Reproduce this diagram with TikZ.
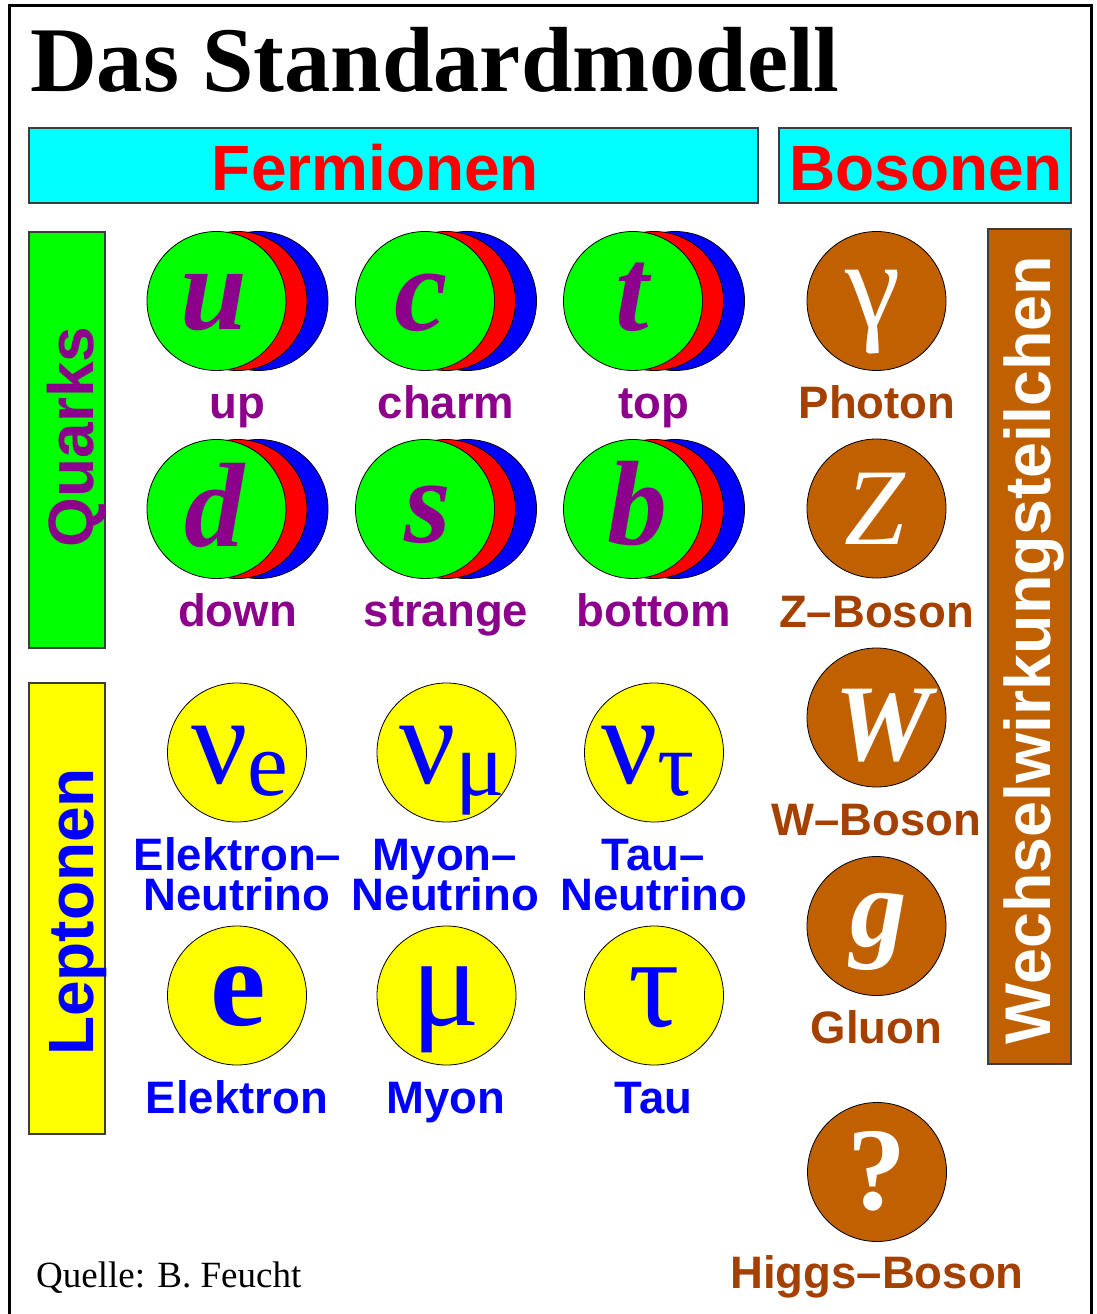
\documentclass[tikz,border=0pt]{standalone}
\usepackage{fontspec}
\setmainfont{Liberation Serif}
\newfontfamily\hlv{Liberation Sans}
\newfontfamily\tms{Liberation Serif}
\definecolor{qgreen}{RGB}{0,255,0}
\definecolor{qred}{RGB}{255,0,0}
\definecolor{qblue}{RGB}{0,0,255}
\definecolor{lyellow}{RGB}{255,255,0}
\definecolor{hcyan}{RGB}{0,255,255}
\definecolor{qpurple}{RGB}{140,0,140}
\definecolor{bbrown}{RGB}{192,96,0}
\definecolor{blabel}{RGB}{165,65,0}
\definecolor{boxline}{RGB}{60,60,60}
\newcommand\myquark[6]{%
  \node[qcirc,fill=qblue] (#1b) at ({#2+42},#3) {};
  \node[qcirc,fill=qred] (#1r) at ({#2+21},#3) {};
  \node[qcirc,fill=qgreen] (#1g) at (#2,#3) {};
  \node[qletter] (#1l) at (#4) {#5};
  \node[qlabel] (#1t) at ({#2+21},{#3+117}) {#6};
}
\begin{document}
\begin{tikzpicture}[x=1pt,y=-1pt,
  hbox/.style={draw=boxline,line width=1.2pt,inner sep=0pt},
  qcirc/.style={circle,draw=black,line width=0.8pt,minimum size=139pt,inner sep=0pt},
  lcirc/.style={circle,draw=black,line width=0.8pt,minimum size=139pt,inner sep=0pt,fill=lyellow},
  bcirc/.style={circle,draw=black,line width=0.8pt,minimum size=139pt,inner sep=0pt,fill=bbrown},
  qletter/.style={inner sep=0pt,anchor=center,text=qpurple,font=\tms\bfseries\itshape\fontsize{120}{120}\selectfont},
  qlabel/.style={inner sep=0pt,anchor=base,text=qpurple,font=\hlv\bfseries\fontsize{45.5}{40}\selectfont},
  llabel/.style={inner sep=0pt,anchor=base,text=qblue,font=\hlv\bfseries\fontsize{45.5}{40}\selectfont},
  blab/.style={inner sep=0pt,anchor=base,text=blabel,font=\hlv\bfseries\fontsize{45.5}{40}\selectfont},
  lsym/.style={inner sep=0pt,anchor=base,text=qblue,font=\tms\fontsize{128}{128}\selectfont},
  bsym/.style={inner sep=0pt,anchor=center,text=white,font=\tms\fontsize{115}{115}\selectfont},
  bighead/.style={inner sep=0pt,anchor=base,text=qred,font=\hlv\bfseries\fontsize{64}{64}\selectfont},
  vlabel/.style={inner sep=0pt,anchor=base,rotate=90,font=\hlv\bfseries\fontsize{64}{64}\selectfont}]
\useasboundingbox (0,0) rectangle (1097,1314);
\path[clip] (0,0) rectangle (1097,1314);
\fill[white] (0,0) rectangle (1097,1314);
% frame
\draw[line width=3pt] (9,1340) -- (9,6) -- (1091,6) -- (1091,1340);
% title
\node[inner sep=0pt,anchor=base west,font=\tms\bfseries\fontsize{92.5}{93}\selectfont] (title) at (30,92) {Das Standardmodell};
% header boxes
\node[hbox,fill=hcyan,minimum width=729pt,minimum height=75pt] (fermbox) at (393.5,165.5) {};
\node[bighead] (ferm) at (375.5,190) {Fermionen};
\node[hbox,fill=hcyan,minimum width=292pt,minimum height=75pt] (bosbox) at (925,165.5) {};
\node[bighead] (bos) at (926,190) {Bosonen};
% side boxes
\node[hbox,fill=qgreen,minimum width=76pt,minimum height=416pt] (qbox) at (67,440) {};
\node[vlabel,text=qpurple] (qtext) at (93,437) {Quarks};
\node[hbox,fill=lyellow,minimum width=76pt,minimum height=451pt] (lbox) at (67,908.5) {};
\node[vlabel,text=qblue] (ltext) at (93,912) {Leptonen};
\node[hbox,fill=bbrown,minimum width=83pt,minimum height=835pt] (wbox) at (1029.5,646.5) {};
\node[vlabel,text=white,font=\hlv\bfseries\fontsize{64.6}{64}\selectfont] (wtext) at (1050,650) {Wechselwirkungsteilchen};
% quarks
\myquark{u}{216.5}{301}{213.5,302.5}{u}{up}
\myquark{c}{425}{301}{421.5,302.5}{c}{charm}
\myquark{t}{633}{301}{632,297}{t}{top}
\myquark{d}{216.5}{509}{214,505}{d}{down}
\myquark{s}{425}{509}{427.5,515}{s}{strange}
\myquark{b}{633}{509}{637,504}{b}{bottom}
% leptons
\node[lcirc] (nue) at (237,752.5) {};
\node[lcirc] (num) at (446.5,752.5) {};
\node[lcirc] (nut) at (654,752.5) {};
\node[lcirc] (el) at (237,995.5) {};
\node[lcirc] (mu) at (446.5,995.5) {};
\node[lcirc] (tau) at (654,995.5) {};
\node[lsym] (nuesym) at (240,783) {{\fontsize{125}{125}\selectfont ν}\kern-1pt\raisebox{-12pt}{\fontsize{92}{92}\selectfont e}};
\node[lsym] (numsym) at (452,783) {{\fontsize{125}{125}\selectfont ν}\kern-1pt\raisebox{-12pt}{\fontsize{92}{92}\selectfont μ}};
\node[lsym] (nutsym) at (648,783) {{\fontsize{125}{125}\selectfont ν}\kern-1pt\raisebox{-12pt}{\fontsize{92}{92}\selectfont τ}};
\node[lsym,font=\tms\bfseries\fontsize{125}{125}\selectfont] (elsym) at (238.5,1025) {e};
\node[lsym] (musym) at (446,1025) {μ};
\node[lsym] (tausym) at (654,1026) {τ};
\node[llabel] (nuelab1) at (237.5,870) {Elektron–};
\node[llabel] (nuelab2) at (237,910) {Neutrino};
\node[llabel] (numlab1) at (445,870) {Myon–};
\node[llabel] (numlab2) at (445.5,910) {Neutrino};
\node[llabel] (nutlab1) at (653,870) {Tau–};
\node[llabel] (nutlab2) at (654,910) {Neutrino};
\node[llabel] (ellab) at (237,1113) {Elektron};
\node[llabel] (mulab) at (446,1113) {Myon};
\node[llabel] (taulab) at (653.5,1113) {Tau};
% bosons
\node[bcirc] (ph) at (876.5,301) {};
\node[bcirc] (zb) at (876.5,508.5) {};
\node[bcirc] (wb) at (876.5,717.5) {};
\node[bcirc] (gl) at (876.5,926) {};
\node[bcirc] (hi) at (877,1172) {};
\node[bsym,font=\tms\fontsize{125}{125}\selectfont] (phsym) at (873.5,312.5) {γ};
\node[bsym,font=\tms\itshape\fontsize{109}{109}\selectfont] (zsym) at (875,509) {Z};
\node[bsym,font=\tms\bfseries\itshape\fontsize{109}{109}\selectfont] (wsym) at (882.5,726) {W};
\node[bsym,font=\tms\bfseries\itshape\fontsize{113}{113}\selectfont] (gsym) at (879,931.5) {g};
\node[bsym,font=\tms\bfseries\fontsize{118}{118}\selectfont] (hsym) at (877,1171) {?};
\node[blab] (phlab) at (877,418) {Photon};
\node[blab] (zlab) at (876.5,627) {Z–Boson};
\node[blab] (wlab) at (876.5,835) {W–Boson};
\node[blab] (gllab) at (876.5,1043) {Gluon};
\node[blab] (hilab) at (877,1288) {Higgs–Boson};
% source
\node[inner sep=0pt,anchor=base west,font=\tms\fontsize{37}{37}\selectfont] (src) at (36,1287) {Quelle: B. Feucht};
\end{tikzpicture}
\end{document}
